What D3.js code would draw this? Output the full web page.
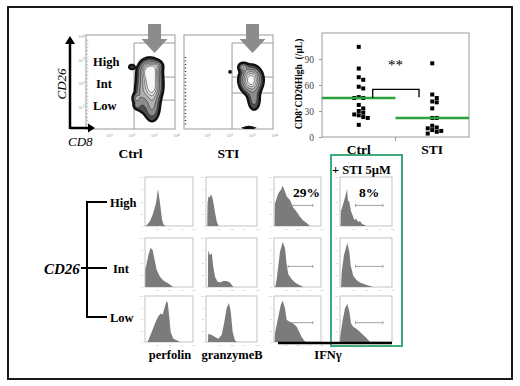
<!doctype html>
<html>
<head>
<meta charset="utf-8">
<script src="https://d3js.org/d3.v7.min.js"></script>
<style>
body { margin: 0; background: #fff; }
text { font-family: "Liberation Serif", "Times New Roman", serif; }
</style>
</head>
<body>
<svg width="520" height="386"></svg>
<script>
// ---- values ----
var flowSamples = ["Ctrl", "STI"];
var cd26Gates = ["High", "Int", "Low"];
var decades = [1, 2, 3, 4];

// CD8 lower bound of the gate, then CD26 cut points: gate top, High/Int, Int/Low (log10)
var gateCD8 = [2.16, 2.16];
var ctrlGateCuts = [3.66, 2.21, 1.23];
var stiGateCuts = [3.66, 2.21, 1.53];

// cell populations: [CD8, CD26, sd CD8, sd CD26, weight] (log10 units)
var ctrlPops = [
  [2.86, 2.47, 0.27, 0.28, 1.00],
  [2.95, 1.83, 0.26, 0.36, 0.95],
  [2.97, 0.95, 0.22, 0.40, 0.40],
  [3.20, 2.70, 0.15, 0.12, 0.30],
  [2.45, 1.50, 0.18, 0.50, 0.30],
  [2.05, 2.64, 0.09, 0.07, 0.25],
  [2.25, 1.30, 0.10, 0.12, 0.30],
  [2.28, 1.00, 0.09, 0.09, 0.25]
];
var stiPops = [
  [3.01, 2.09, 0.28, 0.32, 1.00],
  [2.65, 2.64, 0.12, 0.10, 0.45],
  [3.15, 1.23, 0.18, 0.30, 0.30],
  [2.92, 0.05, 0.30, 0.05, 0.15],
  [2.07, 2.43, 0.03, 0.03, 0.20]
];
// events piled on the CD8 axis: CD26 range
var ctrlAxisPile = [0.1, 3.8];
var stiAxisPile = [0.1, 3.06];

// CD8+CD26High counts (/uL)
var scatterGroups = ["Ctrl", "STI"];
var ctrlCounts = [104, 79, 69, 66, 58, 56, 46, 45, 45, 37, 33, 30, 28, 26, 25, 23, 22, 14];
var stiCounts = [85, 49, 45, 41, 40, 33, 22, 22, 13, 11, 10, 8, 7, 6, 4];
var groupCentres = [45, 22];
var countTicks = [0, 30, 60, 90];

// histograms: [log10 intensity, % of max] for High, Int, Low
var markers = ["perfolin", "granzymeB", "IFNγ"];
var perfolinHist = [
  [[0.05,0],[0.2,3],[0.42,10],[0.67,25],[0.92,47],[1.08,76],[1.25,47],[1.42,13],[1.55,3],[1.7,0]],
  [[0.02,0],[0.03,35],[0.28,65],[0.47,80],[0.64,75],[0.83,52],[0.97,35],[1.25,21],[1.5,14],[1.8,9],[2.08,5],[2.33,0]],
  [[0.2,0],[0.28,4],[0.56,22],[0.83,40],[1.11,56],[1.31,62],[1.47,60],[1.67,78],[1.81,89],[1.9,85],[2.03,52],[2.14,22],[2.36,7],[2.64,4],[2.92,0]]
];
var granzymeHist = [
  [[0.1,0],[0.12,45],[0.18,60],[0.3,58],[0.39,65],[0.5,58],[0.6,45],[0.71,27],[0.86,7],[1.0,0]],
  [[0.15,0],[0.16,60],[0.18,75],[0.31,65],[0.45,69],[0.57,41],[0.71,21],[0.89,11],[1.1,9],[1.36,12],[1.62,12],[1.88,9],[2.02,4],[2.14,0]],
  [[0.15,0],[0.18,18],[0.45,15],[0.71,11],[0.96,7],[1.23,15],[1.44,44],[1.62,74],[1.8,85],[1.94,67],[2.09,22],[2.27,4],[2.41,0]]
];
var ifngCtrlHist = [
  [[0.05,0],[0.07,45],[0.37,67],[0.6,74],[0.74,82],[0.94,70],[1.08,60],[1.36,53],[1.64,37],[1.93,29],[2.21,19],[2.49,11],[2.78,6],[3.06,0]],
  [[0.1,0],[0.23,16],[0.51,72],[0.74,92],[0.94,79],[1.08,45],[1.22,26],[1.51,16],[1.79,9],[2.07,5],[2.49,0]],
  [[0.05,0],[0.09,20],[0.37,55],[0.57,80],[0.74,90],[0.94,73],[1.08,48],[1.36,44],[1.64,40],[1.93,33],[2.15,22],[2.36,11],[2.55,4],[2.72,0]]
];
var ifngStiHist = [
  [[0.05,0],[0.07,30],[0.3,50],[0.45,65],[0.54,75],[0.62,50],[0.69,52],[0.85,30],[1.0,20],[1.1,12],[1.23,15],[1.4,8],[1.54,10],[1.7,4],[1.9,2],[2.0,0]],
  [[0.08,0],[0.13,30],[0.31,66],[0.56,90],[0.72,72],[0.82,44],[1.02,23],[1.28,14],[1.54,9],[2.05,4],[2.54,0]],
  [[0.0,0],[0.02,12],[0.21,48],[0.38,73],[0.56,83],[0.72,66],[0.85,40],[1.02,33],[1.28,28],[1.54,22],[1.79,15],[2.05,8],[2.31,0]]
];
var ifngGate = [1.2, 3.3];
var ifngPct = ["29%", "8%"];
var stiLabel = "+ STI 5µM";

var svg = d3.select("svg");
var green = "#2aa33c", boxGreen = "#3dab7c";

// outer frame
svg.append("rect").attr("x", 8).attr("y", 7).attr("width", 504).attr("height", 372)
  .attr("fill", "none").attr("stroke", "#1a1a1a").attr("stroke-width", 2);

// ---------- flow contour plots ----------
var flowLeft = [86, 184], flowW = 89, flowTop = 35, flowBottom = 129;
var flowPops = [ctrlPops, stiPops];
var flowCuts = [ctrlGateCuts, stiGateCuts];
var axisPiles = [ctrlAxisPile, stiAxisPile];
var levels = [0.12, 0.25, 0.4, 0.55, 0.7, 0.85];
var shade = ["#4d4d4d", "#8c8c8c", "#b0b0b0", "#cdcdcd", "#e4e4e4", "#f7f7f7"];
var n = 120;

flowSamples.forEach(function(s, i) {
  var x = d3.scaleLinear().domain([0, 4]).range([flowLeft[i], flowLeft[i] + flowW]);
  var y = d3.scaleLinear().domain([0, 4]).range([flowBottom, flowTop]);
  var g = svg.append("g");

  g.append("clipPath").attr("id", "fclip" + i).append("rect")
    .attr("x", x(0)).attr("y", y(4)).attr("width", flowW).attr("height", flowBottom - flowTop);

  g.append("rect").attr("x", x(0)).attr("y", y(4)).attr("width", flowW).attr("height", flowBottom - flowTop)
    .attr("fill", "#fff").attr("stroke", "#9a9a9a");

  // gate
  var cuts = flowCuts[i];
  g.append("path")
    .attr("d", "M" + x(gateCD8[i]) + "," + y(0) + "V" + y(cuts[0]) + "H" + x(4))
    .attr("fill", "none").attr("stroke", "#9a9a9a");
  cuts.slice(1).forEach(function(c) {
    g.append("line").attr("x1", x(gateCD8[i])).attr("x2", x(4)).attr("y1", y(c)).attr("y2", y(c))
      .attr("stroke", "#9a9a9a");
  });

  // events on the axis
  var pile = axisPiles[i];
  g.append("line").attr("x1", x(0) + 1.5).attr("x2", x(0) + 1.5).attr("y1", y(pile[1])).attr("y2", y(pile[0]))
    .attr("stroke", i === 0 ? "#b5b5b5" : "#333").attr("stroke-width", 1.4).attr("stroke-dasharray", "1,2.5");

  // density grid -> contours
  var vals = new Array(n * n);
  for (var j = 0; j < n; j++) {
    for (var k = 0; k < n; k++) {
      var cx = (k + 0.5) / n * 4, cy = (j + 0.5) / n * 4, v = 0;
      flowPops[i].forEach(function(p) {
        var dx = (cx - p[0]) / p[2], dy = (cy - p[1]) / p[3];
        v += p[4] * Math.exp(-0.5 * (dx * dx + dy * dy));
      });
      vals[j * n + k] = v;
    }
  }
  var contours = d3.contours().size([n, n]).thresholds(levels)(vals);
  var path = d3.geoPath(d3.geoTransform({
    point: function(px, py) { this.stream.point(x(px / n * 4), y(py / n * 4)); }
  }));
  g.append("g").attr("clip-path", "url(#fclip" + i + ")")
    .selectAll("path").data(contours).join("path")
    .attr("d", path)
    .attr("fill", function(d, k) { return shade[k]; })
    .attr("stroke", "#111")
    .attr("stroke-width", function(d, k) { return k === 0 ? 2.4 : 0.5; });

  // tick labels
  var tl = g.append("g").attr("fill", "#9a9a9a").style("font-size", "4.5px");
  decades.forEach(function(d) {
    tl.append("text").attr("x", x(d) - 2).attr("y", flowBottom + 8).text("10").append("tspan").attr("dy", -1.5).text(d);
    if (i === 0) tl.append("text").attr("x", x(0) - 8).attr("y", y(d) + 3).text("10").append("tspan").attr("dy", -1.5).text(d);
  });

  // gray arrow pointing at the gate
  var ax = x(3.08);
  g.append("path")
    .attr("d", "M" + (ax - 6.5) + ",24H" + (ax + 6.5) + "V39H" + (ax + 13) + "L" + ax + ",53L" + (ax - 13) + ",39H" + (ax - 6.5) + "Z")
    .attr("fill", "#8c8c8c");

  g.append("text").attr("x", x(2)).attr("y", 158).attr("text-anchor", "middle")
    .style("font-size", "13.5px").style("font-weight", "bold").text(s);
});

// CD26 / CD8 axis arrows and gate names
var ax0 = svg.append("g");
ax0.append("path").attr("d", "M70,129V41M92,128H70").attr("stroke", "#000").attr("stroke-width", 2.5).attr("fill", "none");
ax0.append("path").attr("d", "M65,44L70,36L75,44Z").attr("fill", "#000");
ax0.append("path").attr("d", "M88,123.5L95,128L88,132.5Z").attr("fill", "#000");
ax0.append("text").attr("transform", "translate(66,84) rotate(-90)").attr("text-anchor", "middle")
  .style("font-size", "13px").style("font-style", "italic").text("CD26");
ax0.append("text").attr("x", 68).attr("y", 146).style("font-size", "13px").style("font-style", "italic").text("CD8");
var yCtrl = d3.scaleLinear().domain([0, 4]).range([flowBottom, flowTop]);
[2.85, 1.9, 1.0].forEach(function(v, i) {
  ax0.append("text").attr("x", i === 1 ? 96 : 93).attr("y", yCtrl(v) + 4)
    .style("font-size", "12.5px").style("font-weight", "bold").text(cd26Gates[i]);
});

// ---------- scatter of CD8+CD26High counts ----------
var sx = d3.scaleBand().domain(scatterGroups).range([322, 469]);
var sy = d3.scaleLinear().domain([0, 120]).range([137, 33]);
var sc = svg.append("g");
sc.append("rect").attr("x", 322).attr("y", 33).attr("width", 147).attr("height", 104)
  .attr("fill", "none").attr("stroke", "#9a9a9a");
var yAxis = sc.append("g").attr("transform", "translate(322,0)")
  .call(d3.axisLeft(sy).tickValues(countTicks).tickSize(3).tickPadding(5));
yAxis.select(".domain").remove();
yAxis.selectAll("line").attr("stroke", "#9a9a9a");
yAxis.selectAll("text").attr("fill", "#444").style("font-family", '"Liberation Serif", serif').style("font-size", "9.5px");
sc.append("line").attr("x1", sx("STI")).attr("x2", sx("STI")).attr("y1", 137).attr("y2", 141).attr("stroke", "#9a9a9a");
scatterGroups.forEach(function(gname) {
  sc.append("text").attr("x", sx(gname) + sx.bandwidth() / 2).attr("y", 154).attr("text-anchor", "middle")
    .style("font-size", "13.5px").style("font-weight", "bold").text(gname);
});

[ctrlCounts, stiCounts].forEach(function(vals, gi) {
  var cx = sx(scatterGroups[gi]) + sx.bandwidth() / 2;
  var placed = [];
  vals.forEach(function(v) {
    var py = sy(v), offs = [0, 4.5, -4.5, 9, -9, 13.5], off = 0;
    for (var t = 0; t < offs.length; t++) {
      var clash = placed.some(function(p) { return Math.abs(p[1] - py) < 4 && Math.abs(p[0] - offs[t]) < 4.5; });
      if (!clash) { off = offs[t]; break; }
    }
    placed.push([off, py]);
    sc.append("rect").attr("x", cx + off - 2).attr("y", py - 2).attr("width", 4).attr("height", 4).attr("fill", "#000");
  });
  sc.append("line").attr("x1", sx(scatterGroups[gi])).attr("x2", sx(scatterGroups[gi]) + sx.bandwidth())
    .attr("y1", sy(groupCentres[gi])).attr("y2", sy(groupCentres[gi]))
    .attr("stroke", green).attr("stroke-width", 2.5);
});

// significance bracket
var bx1 = sx("Ctrl") + sx.bandwidth() * 0.69, bx2 = sx("STI") + sx.bandwidth() * 0.32;
sc.append("path").attr("d", "M" + bx1 + "," + sy(groupCentres[0]) + "V" + sy(55) + "H" + bx2 + "V" + sy(46))
  .attr("fill", "none").attr("stroke", "#000").attr("stroke-width", 1.3);
sc.append("text").attr("x", sx("STI")).attr("y", sy(77)).attr("text-anchor", "middle")
  .style("font-size", "15px").text("**");

var yt = sc.append("text").attr("transform", "translate(302,84) rotate(-90)").attr("text-anchor", "middle")
  .style("font-size", "9.5px").style("font-weight", "bold");
yt.append("tspan").text("CD8");
yt.append("tspan").attr("dy", -3).style("font-size", "6px").text("+");
yt.append("tspan").attr("dy", 3).text("CD26High  (/µL)").attr("xml:space", "preserve");

// ---------- histograms ----------
var colLeft = [145, 206, 274, 340], colW = [48, 51, 47, 52];
var rowTop = [177, 238, 296], rowH = [49, 49, 46];
var panels = [perfolinHist, granzymeHist, ifngCtrlHist, ifngStiHist];

// green box around the STI-treated column
svg.append("rect").attr("x", 331).attr("y", 155).attr("width", 71).attr("height", 191)
  .attr("fill", "none").attr("stroke", boxGreen).attr("stroke-width", 2);

panels.forEach(function(hists, c) {
  hists.forEach(function(h, r) {
    var hx = d3.scaleLinear().domain([0, 4]).range([colLeft[c], colLeft[c] + colW[c]]);
    var hy = d3.scaleLinear().domain([0, 100]).range([rowTop[r] + rowH[r], rowTop[r]]);
    var g = svg.append("g");
    g.append("rect").attr("x", hx(0)).attr("y", hy(100)).attr("width", colW[c]).attr("height", rowH[r])
      .attr("fill", "#fff").attr("stroke", "#b4b4b4").attr("stroke-width", 0.8);
    g.append("path").datum(h)
      .attr("d", d3.area().x(function(d) { return hx(d[0]); }).y0(hy(0)).y1(function(d) { return hy(d[1]); }))
      .attr("fill", "#7b7b7b");
    var tk = g.append("g").attr("fill", "#aaa").style("font-size", "2.6px");
    decades.forEach(function(d) {
      tk.append("text").attr("x", hx(d) - 1.5).attr("y", hy(0) + 3.6).text("10" + d);
    });
    [0, 25, 50, 75, 100].forEach(function(p) {
      tk.append("text").attr("x", hx(0) - 2).attr("y", hy(p) + 1).attr("text-anchor", "end").text(p);
    });
    if (c >= 2) {
      var gy = hy(42);
      g.append("path")
        .attr("d", "M" + hx(ifngGate[0]) + "," + (gy - 1.5) + "v3M" + hx(ifngGate[0]) + "," + gy + "H" + hx(ifngGate[1]) + "M" + hx(ifngGate[1]) + "," + (gy - 1.5) + "v3")
        .attr("stroke", "#8a8a8a").attr("stroke-width", 0.8).attr("fill", "none");
    }
  });
});

// IFNg axis bar
svg.append("line").attr("x1", 278).attr("x2", 392).attr("y1", 343).attr("y2", 343)
  .attr("stroke", "#000").attr("stroke-width", 2.5);

// marker names
[[170, markers[0]], [232, markers[1]], [328, markers[2]]].forEach(function(m) {
  svg.append("text").attr("x", m[0]).attr("y", 359).attr("text-anchor", "middle")
    .style("font-size", "12.5px").style("font-weight", "bold").text(m[1]);
});

// percentages and treatment label
svg.append("text").attr("x", 293).attr("y", 197).style("font-size", "13.5px").style("font-weight", "bold").text(ifngPct[0]);
svg.append("text").attr("x", 359).attr("y", 197).style("font-size", "13.5px").style("font-weight", "bold").text(ifngPct[1]);
svg.append("text").attr("x", 332).attr("y", 174).style("font-size", "12.5px").style("font-weight", "bold").text(stiLabel);

// CD26 bracket
var br = svg.append("g");
var rowMid = [202, 268, 317];
br.append("line").attr("x1", 87).attr("x2", 87).attr("y1", rowMid[0]).attr("y2", rowMid[2]).attr("stroke", "#000").attr("stroke-width", 2);
rowMid.forEach(function(yv, i) {
  br.append("line").attr("x1", i === 1 ? 81 : 86).attr("x2", 107).attr("y1", yv).attr("y2", yv).attr("stroke", "#000").attr("stroke-width", 2);
  br.append("text").attr("x", i === 1 ? 113 : 110).attr("y", yv + 4.5)
    .style("font-size", "12.5px").style("font-weight", "bold").text(cd26Gates[i]);
});
br.append("text").attr("x", 44).attr("y", 274).style("font-size", "15px").style("font-weight", "bold")
  .style("font-style", "italic").text("CD26");
</script>
</body>
</html>
